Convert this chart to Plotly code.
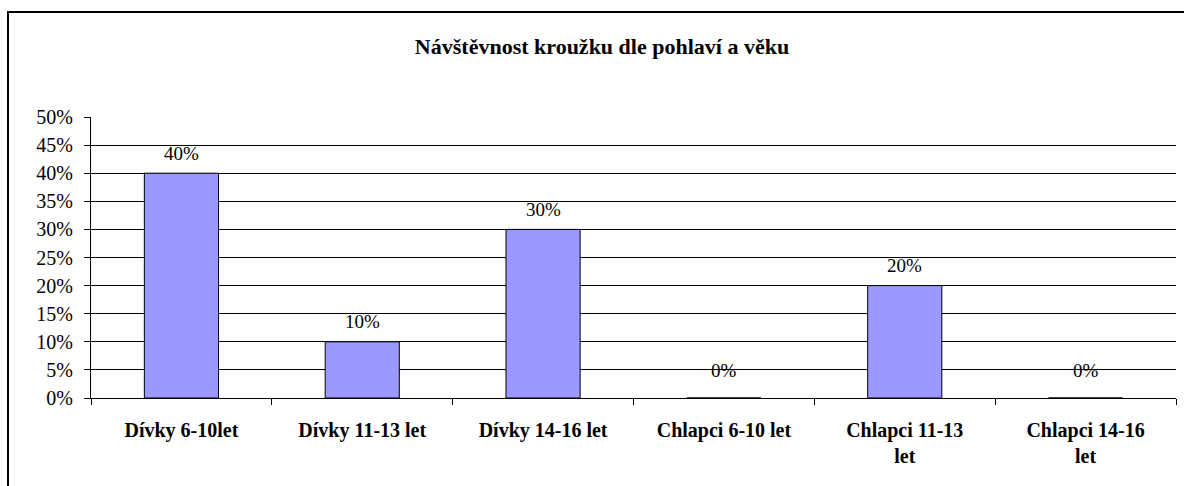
import plotly.graph_objects as go

categories = ["Dívky 6-10let", "Dívky 11-13 let", "Dívky 14-16 let",
              "Chlapci 6-10 let", "Chlapci 11-13<br>let", "Chlapci 14-16<br>let"]
values = [0.40, 0.10, 0.30, 0.0, 0.20, 0.0]
labels = ["40%", "10%", "30%", "0%", "20%", "0%"]
title_text = "Návštěvnost kroužku dle pohlaví a věku"

FONT = "Times New Roman"

fig = go.Figure()
fig.add_trace(go.Bar(
    x=categories, y=values,
    marker=dict(color="#9999FF", line=dict(color="black", width=1)),
    hoverinfo="skip",
))

for c, v, t in zip(categories, values, labels):
    fig.add_annotation(x=c, y=v, text=t, showarrow=False, yanchor="middle",
                       yshift=(28 if v == 0 else 20),
                       font=dict(family=FONT, size=19, color="black"))

W, H = 1184, 486
L, R, T, B = 91, 8, 117, 88
pw, ph = W - L - R, H - T - B

def px(xp):
    return (xp - L) / pw

def py(yp):
    return (H - B - yp) / ph

fig.add_shape(type="rect", xref="paper", yref="paper",
              x0=px(8), x1=px(1195), y0=py(500), y1=py(12),
              line=dict(color="black", width=2), layer="below")

fig.update_layout(
    width=W, height=H,
    margin=dict(l=L, r=R, t=T, b=B, autoexpand=False),
    paper_bgcolor="white", plot_bgcolor="white",
    showlegend=False,
    bargap=0.59,
    title=dict(text="<b>" + title_text + "</b>", x=602 / W, xanchor="center",
               y=1 - 46 / H, yanchor="middle",
               font=dict(family=FONT, size=22, color="black")),
    font=dict(family=FONT, color="black"),
)
fig.update_xaxes(
    automargin=False,
    showline=True, linecolor="black", linewidth=1,
    ticks="outside", tickson="boundaries", ticklen=6, tickcolor="black",
    tickfont=dict(family=FONT, size=20, color="black", weight="bold"),
    ticklabelstandoff=14,
    showgrid=False,
)
fig.update_yaxes(
    automargin=False,
    range=[0, 0.5], dtick=0.05, tickformat=".0%",
    showline=True, linecolor="black", linewidth=1,
    ticks="outside", ticklen=6, tickcolor="black",
    showgrid=True, gridcolor="black", gridwidth=1,
    tickfont=dict(family=FONT, size=20, color="black"),
    ticklabelstandoff=7,
    zeroline=False,
)

fig.write_html("out.html", config={"displayModeBar": False},
               post_script="document.body.style.margin='0';document.body.style.padding='0';")
